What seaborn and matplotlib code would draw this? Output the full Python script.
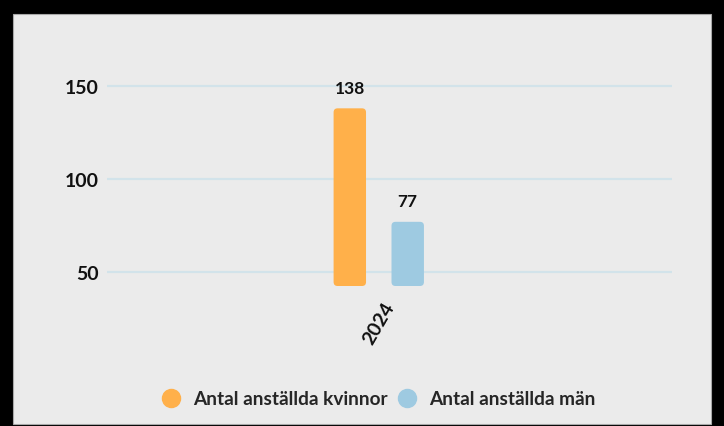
import numpy as np
import pandas as pd
import matplotlib
matplotlib.use("Agg")
import matplotlib.pyplot as plt
import seaborn as sns
from matplotlib.patches import FancyBboxPatch, Rectangle
from matplotlib.lines import Line2D

years = ["2024"]
kvinnor = [138]
man = [77]
series = ["Antal anställda kvinnor", "Antal anställda män"]
colors = ["#ffb04a", "#9ecae1"]

df = pd.DataFrame({
    "year": years * 2,
    "value": kvinnor + man,
    "series": [series[0]] * len(years) + [series[1]] * len(years),
})

sns.set_style("whitegrid")
plt.rcParams["font.family"] = ["Lato", "DejaVu Sans"]
plt.rcParams["font.weight"] = "bold"

fig = plt.figure(figsize=(7.24, 4.27), dpi=100, facecolor="black")
# gray panel inside the black frame
fig.patches.append(Rectangle((13 / 724, 1 - 425 / 427), 698 / 724, 410 / 427,
                             transform=fig.transFigure, facecolor="#ebebeb",
                             edgecolor="#a8a8a8", lw=0.8, zorder=-5))

ax = fig.add_axes([107 / 724, 1 - 287 / 427, 565 / 724, (287 - 68.4) / 427])
ax.set_facecolor("#ebebeb")
ax.patch.set_alpha(0)

sns.barplot(data=df, x="year", y="value", hue="series", palette=colors,
            width=0.205, gap=0.44, saturation=1, legend=False, ax=ax)

ymin, ymax = 42.5, 160
ax.set_ylim(ymin, ymax)
ax.set_xlim(-0.481, 0.519)

# rounded bars
px_x = 1 / 565
px_y = (ymax - ymin) / (287 - 68.4)
for p in list(ax.patches):
    x, w, h = p.get_x(), p.get_width(), p.get_height()
    p.set_visible(False)
    fb = FancyBboxPatch((x, ymin), w, h - ymin,
                        boxstyle=f"round,pad=0,rounding_size={4 * px_x}",
                        mutation_aspect=px_y / px_x,
                        facecolor=p.get_facecolor(), edgecolor="none", zorder=3)
    ax.add_patch(fb)

for c in ax.containers:
    ax.bar_label(c, padding=9, fontsize=12.5, fontweight="bold", color="#111111")

ax.set_yticks([50, 100, 150])
ax.grid(axis="y", color="#d2e3ea", lw=1.6)
ax.grid(axis="x", visible=False)
for s in ax.spines.values():
    s.set_visible(False)
ax.tick_params(axis="y", length=0, pad=6, labelsize=14, labelcolor="#111111")
ax.tick_params(axis="x", length=0, pad=9, labelsize=14, labelcolor="#111111")
for t in ax.get_xticklabels():
    t.set_rotation(60)
    t.set_ha("center")
    t.set_va("top")
    t.set_fontweight("bold")
for t in ax.get_yticklabels():
    t.set_fontweight("bold")
ax.set_xlabel("")
ax.set_ylabel("")

handles = [Line2D([], [], marker="o", ls="", markersize=13, color=c) for c in colors]
fig.legend(handles, series, loc="center", bbox_to_anchor=(0.519, 1 - 400 / 427),
           ncol=2, frameon=False, handletextpad=0.35, handlelength=1.6,
           columnspacing=0.25, prop={"weight": "bold", "size": 13.7})

fig.savefig("out.png", dpi=100, facecolor="black")
